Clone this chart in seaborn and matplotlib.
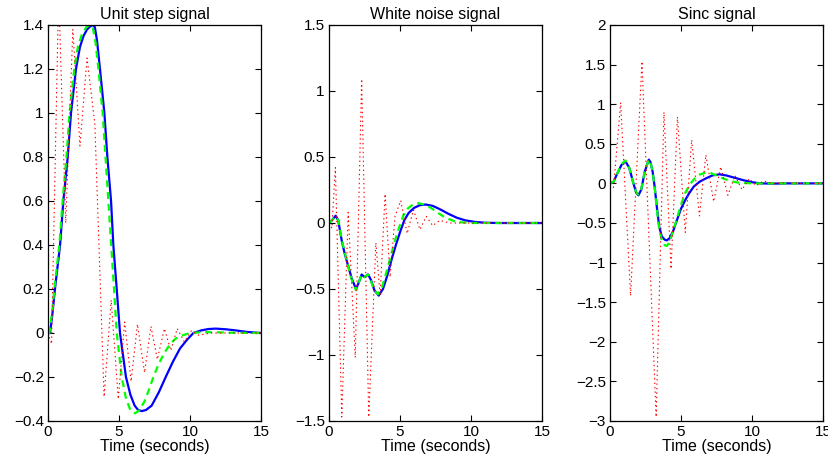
import numpy as np
import pandas as pd
import matplotlib
matplotlib.use("Agg")
import matplotlib.pyplot as plt
import seaborn as sns
from matplotlib.ticker import FuncFormatter, FixedLocator

# ---------------- data ----------------
titles = ["Unit step signal", "White noise signal", "Sinc signal"]
xlabel_text = "Time (seconds)"
x_ticks = [0, 5, 10, 15]

# Panel 1: unit step
step_blue_t = [0, 0.14, 0.3, 0.49, 0.67, 0.85, 1.08, 1.39, 1.62, 1.97, 2.25, 2.5, 2.75, 3.0, 3.15,
               3.3, 3.45, 3.66, 3.97, 4.18, 4.44, 4.6, 4.84, 5.07, 5.49, 5.8, 6.1, 6.35, 6.6, 6.9,
               7.3, 7.8, 8.29, 8.8, 9.3, 9.8, 10.24, 10.8, 11.3, 11.8, 12.5, 13.2, 14.0, 15.0]
step_blue_v = [0, 0, 0.08, 0.2, 0.3, 0.4, 0.6, 0.8, 1.0, 1.2, 1.3, 1.35, 1.38, 1.395, 1.4,
               1.39, 1.33, 1.2, 1.0, 0.8, 0.6, 0.4, 0.2, 0.0, -0.2, -0.28, -0.33, -0.35, -0.355, -0.35,
               -0.33, -0.27, -0.2, -0.13, -0.07, -0.03, 0.0, 0.012, 0.018, 0.02, 0.017, 0.012, 0.005, 0.0]
step_green_t = [0, 0.1, 0.3, 0.45, 0.62, 0.8, 1.03, 1.3, 1.52, 1.85, 2.1, 2.4, 2.7, 2.95, 3.15,
                3.35, 3.55, 3.85, 4.05, 4.25, 4.45, 4.65, 4.84, 5.19, 5.5, 5.8, 6.13, 6.45, 6.8,
                7.1, 7.42, 7.8, 8.2, 8.6, 9.0, 9.5, 10.0, 11.0, 12.0, 13.0, 15.0]
step_green_v = [0, 0, 0.1, 0.2, 0.3, 0.4, 0.6, 0.8, 1.0, 1.2, 1.3, 1.36, 1.39, 1.4, 1.39,
                1.32, 1.2, 1.0, 0.8, 0.6, 0.4, 0.2, 0.0, -0.2, -0.3, -0.35, -0.365, -0.35, -0.31,
                -0.26, -0.2, -0.14, -0.09, -0.05, -0.025, -0.01, 0.0, 0.004, 0.003, 0.001, 0.0]
step_red_t = [0, 0.25, 0.75, 1.25, 1.75, 2.25, 2.75, 3.3, 3.95, 4.45, 4.95, 5.4, 5.85, 6.3, 6.8,
              7.25, 7.7, 8.2, 8.65, 9.1, 9.6, 10.1, 10.6, 11.5, 12.5, 13.5, 15.0]
step_red_v = [0, -0.05, 1.55, 0.5, 1.38, 0.85, 1.25, 0.95, -0.29, 0.15, -0.3, 0.05, -0.22, 0.04, -0.18,
              0.03, -0.12, 0.02, -0.08, 0.02, -0.04, 0.01, -0.01, 0.0, 0.0, 0.0, 0.0]

# Panel 2: white noise
noise_blue_t = [0, 0.2, 0.47, 0.65, 0.89, 1.1, 1.36, 1.6, 1.9, 2.1, 2.3, 2.5, 2.75, 2.95, 3.2, 3.5,
                3.8, 4.1, 4.4, 4.7, 5.0, 5.3, 5.6, 6.0, 6.4, 6.8, 7.3, 7.8, 8.4, 9.0, 9.6, 10.3,
                11.0, 12.0, 15.0]
noise_blue_v = [0, 0.02, 0.055, 0.02, -0.13, -0.23, -0.33, -0.42, -0.5, -0.45, -0.39, -0.41, -0.39,
                -0.43, -0.51, -0.55, -0.5, -0.4, -0.28, -0.17, -0.07, 0.02, 0.075, 0.115, 0.135,
                0.14, 0.13, 0.105, 0.07, 0.04, 0.02, 0.008, 0.002, 0.0, 0.0]
noise_green_t = [0, 0.2, 0.45, 0.65, 0.89, 1.1, 1.36, 1.6, 1.9, 2.1, 2.3, 2.5, 2.75, 2.95, 3.2, 3.45,
                 3.75, 4.05, 4.35, 4.65, 4.95, 5.25, 5.55, 5.9, 6.3, 6.7, 7.1, 7.5, 7.9, 8.3, 8.8,
                 9.4, 10.0, 11.0, 15.0]
noise_green_v = [0, 0.02, 0.05, 0.02, -0.12, -0.22, -0.33, -0.43, -0.51, -0.45, -0.39, -0.41, -0.39,
                 -0.44, -0.51, -0.54, -0.48, -0.37, -0.25, -0.13, -0.03, 0.06, 0.11, 0.14, 0.15,
                 0.14, 0.12, 0.09, 0.06, 0.035, 0.015, 0.004, 0.0, 0.0, 0.0]
noise_red_t = [0, 0.2, 0.45, 0.9, 1.35, 1.85, 2.3, 2.8, 3.3, 3.6, 3.95, 4.3, 4.65, 5.05, 5.5, 5.95,
               6.4, 6.85, 7.3, 7.8, 8.5, 9.5, 15.0]
noise_red_v = [0, -0.04, 0.42, -1.47, 0.08, -1.02, 1.09, -1.47, -0.15, -0.55, 0.22, -0.41, 0.05,
               0.17, -0.08, 0.1, -0.05, 0.05, -0.02, 0.02, 0.0, 0.0, 0.0]

# Panel 3: sinc
sinc_blue_t = [0, 0.25, 0.5, 0.8, 1.08, 1.35, 1.65, 1.85, 2.0, 2.2, 2.45, 2.73, 2.85, 3.0, 3.15, 3.3,
               3.47, 3.65, 3.85, 4.0, 4.2, 4.45, 4.7, 5.0, 5.3, 5.57, 5.9, 6.3, 6.76, 7.2, 7.7, 8.2,
               8.8, 9.4, 10.0, 10.6, 11.5, 12.5, 15.0]
sinc_blue_v = [0, 0.02, 0.12, 0.23, 0.28, 0.2, 0.0, -0.12, -0.15, -0.08, 0.15, 0.3, 0.27, 0.15, -0.05,
               -0.3, -0.55, -0.67, -0.71, -0.72, -0.69, -0.6, -0.47, -0.32, -0.21, -0.125, -0.04,
               0.02, 0.064, 0.1, 0.115, 0.1, 0.07, 0.04, 0.015, 0.0, -0.003, 0.0, 0.0]
sinc_green_t = [0, 0.25, 0.5, 0.8, 1.08, 1.35, 1.65, 1.85, 2.0, 2.2, 2.45, 2.73, 2.85, 3.0, 3.15, 3.3,
                3.47, 3.65, 3.85, 4.0, 4.2, 4.45, 4.7, 5.0, 5.3, 5.6, 5.9, 6.3, 6.7, 7.1, 7.5, 8.0,
                8.5, 9.0, 10.0, 15.0]
sinc_green_v = [0, 0.02, 0.12, 0.24, 0.29, 0.2, 0.0, -0.12, -0.14, -0.07, 0.15, 0.3, 0.27, 0.15, -0.06,
                -0.33, -0.58, -0.72, -0.78, -0.79, -0.74, -0.6, -0.45, -0.27, -0.12, -0.02, 0.05,
                0.11, 0.135, 0.13, 0.1, 0.06, 0.03, 0.01, 0.0, 0.0]
sinc_red_t = [0, 0.25, 0.75, 1.45, 2.25, 3.25, 3.8, 4.3, 4.75, 5.3, 5.75, 6.3, 6.75, 7.3, 7.8, 8.3,
              8.8, 9.3, 9.8, 10.3, 10.8, 11.5, 12.5, 13.5, 15.0]
sinc_red_v = [0, -0.05, 1.02, -1.42, 1.54, -2.95, 0.9, -1.08, 0.84, -0.62, 0.55, -0.41, 0.36, -0.23,
              0.21, -0.15, 0.1, -0.08, 0.06, -0.03, 0.03, 0.0, 0.01, 0.0, 0.0]

y_limits = [(-0.4, 1.4), (-1.5, 1.5), (-3.0, 2.0)]
y_ticks = [[-0.4, -0.2, 0, 0.2, 0.4, 0.6, 0.8, 1.0, 1.2, 1.4],
           [-1.5, -1, -0.5, 0, 0.5, 1, 1.5],
           [-3, -2.5, -2, -1.5, -1, -0.5, 0, 0.5, 1, 1.5, 2]]

panels = [
    (step_blue_t, step_blue_v, step_green_t, step_green_v, step_red_t, step_red_v),
    (noise_blue_t, noise_blue_v, noise_green_t, noise_green_v, noise_red_t, noise_red_v),
    (sinc_blue_t, sinc_blue_v, sinc_green_t, sinc_green_v, sinc_red_t, sinc_red_v),
]

# ---------------- style ----------------
sns.set_style("ticks")
plt.rcParams["font.family"] = ["Liberation Sans", "DejaVu Sans"]
plt.rcParams["lines.scale_dashes"] = False

W, H = 829, 454
fig = plt.figure(figsize=(W / 100, H / 100), dpi=100)
lefts = [48, 329, 610]
ax_w, ax_top, ax_bot = 213, 25, 421


def fmt(v, p):
    v = round(v, 6)
    if v == 0:
        return "0"
    return ("%g" % v).replace("-", "\u2212")


for i, (bt, bv, gt, gv, rt, rv) in enumerate(panels):
    ax = fig.add_axes([lefts[i] / W, 1 - ax_bot / H, ax_w / W, (ax_bot - ax_top) / H])
    sns.lineplot(x=bt, y=bv, ax=ax, color="#0000ff", linewidth=1.6,
                 estimator=None, sort=False)
    sns.lineplot(x=gt, y=gv, ax=ax, color="#00ff00", linewidth=1.6,
                 estimator=None, sort=False)
    ax.lines[-1].set_linestyle((0, (5, 3.5)))
    sns.lineplot(x=rt, y=rv, ax=ax, color="#ff0000", linewidth=0.8,
                 estimator=None, sort=False)
    ax.lines[-1].set_linestyle((0, (1, 2.2)))

    ax.set_xlim(0, 15)
    ax.set_ylim(*y_limits[i])
    ax.xaxis.set_major_locator(FixedLocator(x_ticks))
    ax.yaxis.set_major_locator(FixedLocator(y_ticks[i]))
    ax.xaxis.set_major_formatter(FuncFormatter(fmt))
    ax.yaxis.set_major_formatter(FuncFormatter(fmt))
    ax.tick_params(direction="in", top=True, right=True, length=4, width=0.8,
                   labelsize=11, colors="black", pad=3)
    for s in ax.spines.values():
        s.set_color("black")
        s.set_linewidth(0.9)
    ax.set_title(titles[i], fontsize=11.5, pad=4, color="black")
    ax.set_xlabel(xlabel_text, fontsize=11.5, labelpad=0, color="black")
    ax.set_ylabel("")

fig.savefig("out.png", dpi=100)
